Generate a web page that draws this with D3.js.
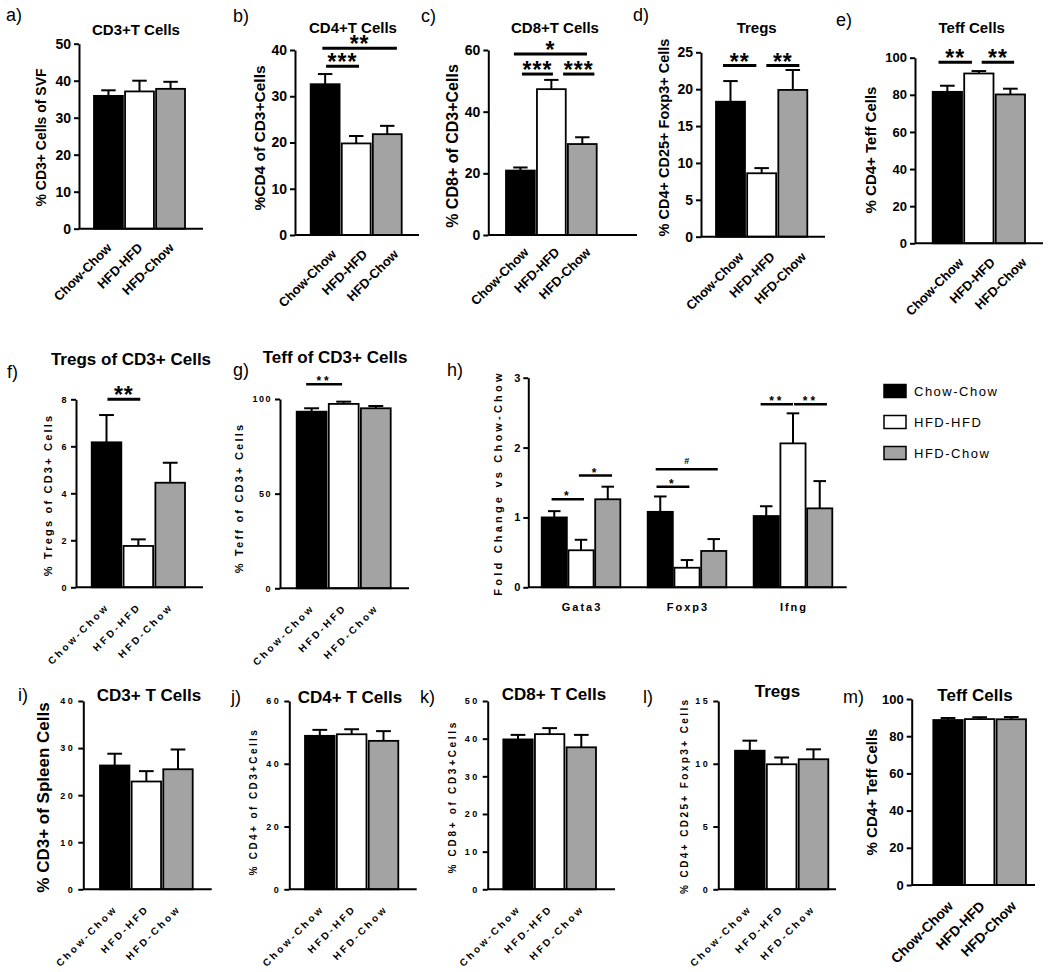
<!DOCTYPE html>
<html><head><meta charset="utf-8">
<script src="https://cdn.jsdelivr.net/npm/d3@7"></script>
<style>
body{margin:0;background:#fff}
svg{display:block;font-family:"Liberation Sans",Arial,Helvetica,sans-serif}
</style></head><body>
<svg id="c" width="1050" height="972"></svg>
<script>
// ---------------- DATA ----------------
const groups = ["Chow-Chow","HFD-HFD","HFD-Chow"];
const genes  = ["Gata3","Foxp3","Ifng"];

const aMean=[35.9,37.1,37.8],  aErr=[1.5,2.9,1.9];
const bMean=[32.6,19.8,21.8],  bErr=[2.2,1.6,1.8];
const cMean=[20.9,47.3,29.5],  cErr=[1.0,3.0,2.2];
const dMean=[18.3,8.6,19.9],   dErr=[2.8,0.7,2.7];
const eMean=[81.6,91.5,80.2],  eErr=[3.3,1.3,3.1];
const fMean=[6.17,1.76,4.45],  fErr=[1.16,0.28,0.85];
const gMean=[93.3,97.4,95.1],  gErr=[1.8,1.2,1.2];
const hGata3Mean=[1.0,0.53,1.26], hGata3Err=[0.09,0.15,0.18];
const hFoxp3Mean=[1.08,0.28,0.52], hFoxp3Err=[0.22,0.11,0.17];
const hIfngMean=[1.02,2.06,1.13],  hIfngErr=[0.14,0.43,0.39];
const iMean=[26.3,22.9,25.5],  iErr=[2.5,2.2,4.2];
const jMean=[48.9,49.4,47.3],  jErr=[1.9,1.6,3.1];
const kMean=[39.8,41.2,37.7],  kErr=[1.2,1.6,3.3];
const lMean=[11.04,9.96,10.36],lErr=[0.8,0.54,0.79];
const mMean=[88.7,89.2,89.1],  mErr=[1.1,1.0,1.2];

const aTicks=[0,10,20,30,40,50], bTicks=[0,10,20,30,40], cTicks=[0,20,40,60],
      dTicks=[0,5,10,15,20,25], eTicks=[0,20,40,60,80,100], fTicks=[0,2,4,6,8],
      gTicks=[0,50,100], hTicks=[0,1,2,3], iTicks=[0,10,20,30,40],
      jTicks=[0,20,40,60], kTicks=[0,10,20,30,40,50], lTicks=[0,5,10,15],
      mTicks=[0,20,40,60,80,100];

// significance: [from (bar index), to (bar index), value, label]
const aSig=[];
const bSig=[[0.03,1.09,36.5,"***"],[-0.09,2.31,40.4,"**"]];
const cSig=[[-0.21,2.15,58.7,"*"],[0.05,1.05,52.2,"***"],[1.38,2.39,52.2,"***"]];
const dSig=[[-0.24,0.83,23.2,"**"],[1.15,2.21,23.2,"**"]];
const eSig=[[-0.28,0.78,97.6,"**"],[1.09,2.12,97.6,"**"]];
const fSig=[[0.03,1.06,8.0,"**"]];
const gSig=[[-0.17,0.95,107.8,"**"]];
const hSig=[["Gata3",-0.1,1.11,1.26,"*"],["Gata3",0.92,2.16,1.60,"*"],
            ["Foxp3",-0.14,1.09,1.44,"*"],["Foxp3",-0.17,2.15,1.69,"#"],
            ["Ifng",-0.21,1.0,2.62,"**"],["Ifng",1.04,2.27,2.62,"**"]];
const noSig=[];

// ---------------- STYLE / LAYOUT ----------------
const fills=["#000000","#ffffff","#a3a3a3"];
const svg=d3.select("#c");

const layouts={
 a:{axisX:79,y0:228.7,yTop:43.7,max:50,bars:[94,185],xEnd:203,tick:[14,0],xl:[13,0],xo:[4,20],
    yl:["% CD3+ Cells of SVF",41,137.5,14,0],title:["CD3+T Cells",136,34.7,15],tag:["a)",6,21],big:true},
 b:{axisX:295,y0:235,yTop:50,max:40,bars:[310.7,401.7],xEnd:419,tick:[14,0],xl:[13,0],xo:[12,20],
    yl:["%CD4 of CD3+Cells",259,138,15.5,0],title:["CD4+T Cells",353,33.3,15],tag:["b)",233,22],big:true},
 c:{axisX:488.3,y0:235,yTop:50,max:60,bars:[506,596.7],xEnd:637,tick:[14,0],xl:[13,0],xo:[9,18],
    yl:["% CD8+ of CD3+Cells",452,146,16,0],title:["CD8+T Cells",555,33.3,15],tag:["c)",421,22],big:true},
 d:{axisX:701,y0:236.7,yTop:52.3,max:25,bars:[716,807.3],xEnd:825,tick:[14,0],xl:[13,0],xo:[14,21],
    yl:["% CD4+ CD25+ Foxp3+ Cells",664,137.5,14.5,0],title:["Tregs",756.7,33.3,15],tag:["d)",633,21],big:true},
 e:{axisX:915,y0:243.3,yTop:57.7,max:100,bars:[932.7,1025],xEnd:1043,tick:[13,0],xl:[13,0],xo:[17,20],
    yl:["% CD4+ Teff Cells",871,150,15,0],title:["Teff Cells",971.7,33.3,15],tag:["e)",836,26],big:true},
 f:{axisX:76,y0:587.3,yTop:399.3,max:8,bars:[91.7,185],xEnd:203,tick:[9,1.5],xl:[10,2.7],xo:[3.5,20],
    yl:["% Tregs of CD3+ Cells",48.5,495,11,2.2],title:["Tregs of CD3+ Cells",131,365,17],tag:["f)",7,378],big:true},
 g:{axisX:280,y0:588.3,yTop:399,max:100,bars:[296.7,390.7],xEnd:409,tick:[9,1.5],xl:[10,2.7],xo:[3.5,20],
    yl:["% Teff of CD3+ Cells",239,498,11,2.2],title:["Teff of CD3+ Cells",335,363.3,17],tag:["g)",233,376],big:false},
 i:{axisX:83.3,y0:889.3,yTop:701,max:40,bars:[100,192.7],xEnd:211.7,tick:[9,2.5],xl:[10,2.7],xo:[3.5,20],
    yl:["% CD3+ of Spleen Cells",42.5,797.5,17,0],title:["CD3+ T Cells",149,700.7,17],tag:["i)",18,701],big:true},
 j:{axisX:289.3,y0:889.3,yTop:701,max:60,bars:[305,398.3],xEnd:416.7,tick:[9,2.5],xl:[10,2.7],xo:[5,20],
    yl:["% CD4+ of CD3+Cells",253.5,801.7,10,2.4],title:["CD4+ T Cells",350,702.7,17],tag:["j)",231,703],big:true},
 k:{axisX:487.7,y0:889.3,yTop:701,max:50,bars:[503.3,596],xEnd:615,tick:[9,2.5],xl:[10,2.7],xo:[3.5,20],
    yl:["% CD8+ of CD3+Cells",452,796.7,10,2.7],title:["CD8+ T Cells",554,700,17],tag:["k)",420,703],big:true},
 l:{axisX:718.3,y0:889.3,yTop:701,max:15,bars:[735,828.3],xEnd:836,tick:[9,2.5],xl:[10,2.7],xo:[2.5,20],
    yl:["% CD4+ CD25+ Foxp3+ Cells",684.5,795.7,10,2.4],title:["Tregs",777.5,697,17],tag:["l)",643,703],big:true},
 m:{axisX:911.7,y0:885,yTop:699,max:100,bars:[933.3,1026],xEnd:1035,tick:[13,0],xl:[14,0],xo:[6,22],
    yl:["% CD4+ Teff Cells",872,792,15,0],title:["Teff Cells",975,700.7,17],tag:["m)",843,703],big:true}
};

function yAxisDraw(g,L,y,ticks){
  const ax=g.append("g").attr("transform",`translate(${L.axisX},0)`)
    .call(d3.axisLeft(y).tickValues(ticks).tickSize(5).tickSizeOuter(0).tickPadding(3).tickFormat(d3.format("d")));
  ax.attr("font-size",null).attr("font-family",null);
  ax.select(".domain").attr("stroke","#000").attr("stroke-width",2);
  ax.selectAll(".tick line").attr("stroke","#000").attr("stroke-width",2);
  ax.selectAll(".tick text").attr("fill","#000").style("font-weight","bold")
    .style("font-size",L.tick[0]+"px").style("letter-spacing",L.tick[1]+"px");
}
function texts(g,L){
  const [yt,yx,yy,ys,ysp]=L.yl;
  g.append("text").attr("transform",`translate(${yx+0.36*ys},${yy}) rotate(-90)`)
    .attr("text-anchor","middle").style("font-weight","bold").style("font-size",ys+"px")
    .style("letter-spacing",ysp+"px").text(yt);
  if(L.title){
    const [tt,tx,ty,ts]=L.title;
    g.append("text").attr("x",tx).attr("y",ty).attr("text-anchor","middle")
      .style("font-weight","bold").style("font-size",ts+"px").text(tt);
  }
  const [lt,lx,ly]=L.tag;
  g.append("text").attr("x",lx).attr("y",ly).style("font-size","18px").text(lt);
}
function barsDraw(g,x,y,y0,means,errs,offset){
  const bw=x.bandwidth();
  const data=groups.map((k,i)=>({k,i,m:means[i],e:errs[i]}));
  g.selectAll(null).data(data).join("line")
    .attr("x1",d=>offset+x(d.k)+bw/2).attr("x2",d=>offset+x(d.k)+bw/2)
    .attr("y1",d=>y(d.m)).attr("y2",d=>y(d.m+d.e)).attr("stroke","#000").attr("stroke-width",2);
  g.selectAll(null).data(data).join("line")
    .attr("x1",d=>offset+x(d.k)+bw/4).attr("x2",d=>offset+x(d.k)+bw*3/4)
    .attr("y1",d=>y(d.m+d.e)).attr("y2",d=>y(d.m+d.e)).attr("stroke","#000").attr("stroke-width",2);
  g.selectAll(null).data(data).join("rect")
    .attr("x",d=>offset+x(d.k)).attr("y",d=>y(d.m)).attr("width",bw).attr("height",d=>y0-y(d.m))
    .attr("fill",d=>fills[d.i]).attr("stroke","#000").attr("stroke-width",1.8);
}
function sigDraw(g,xpos,y,s,big){
  const x1=xpos(s[0]),x2=xpos(s[1]),yy=y(s[2]);
  g.append("line").attr("x1",x1).attr("x2",x2).attr("y1",yy).attr("y2",yy)
    .attr("stroke","#000").attr("stroke-width",big?3:2.6);
  const t=g.append("text").attr("x",(x1+x2)/2).attr("text-anchor","middle").style("font-weight","bold").text(s[3]);
  if(s[3]==="#"){t.attr("y",yy-5).style("font-size","9px");}
  else if(big){t.attr("y",yy+4).style("font-size","23px").style("letter-spacing","1px");}
  else {t.attr("y",yy+1).style("font-size","12px").style("letter-spacing","3px");}
}

function drawPanel(L,means,errs,ticks,sigs){
  const g=svg.append("g");
  const y=d3.scaleLinear().domain([0,L.max]).range([L.y0,L.yTop]);
  const x=d3.scaleBand().domain(groups).range(L.bars).paddingInner(0.07);
  barsDraw(g,x,y,L.y0,means,errs,0);
  yAxisDraw(g,L,y,ticks);
  g.append("line").attr("x1",L.axisX).attr("x2",L.xEnd).attr("y1",L.y0).attr("y2",L.y0)
    .attr("stroke","#000").attr("stroke-width",2);
  const xa=g.append("g").attr("transform",`translate(0,${L.y0})`).call(d3.axisBottom(x).tickSize(0));
  xa.attr("font-size",null).attr("font-family",null);
  xa.select(".domain").remove();
  xa.selectAll(".tick text").attr("fill","#000").attr("y",0).attr("dy",0)
    .attr("text-anchor","end").attr("transform",`translate(${L.xo[0]},${L.xo[1]}) rotate(-45)`)
    .style("font-weight","bold").style("font-size",L.xl[0]+"px").style("letter-spacing",L.xl[1]+"px");
  const c0=x(groups[0])+x.bandwidth()/2, st=x.step();
  sigs.forEach(s=>sigDraw(g,t=>c0+t*st,y,s,L.big));
  texts(g,L);
}

drawPanel(layouts.a,aMean,aErr,aTicks,aSig);
drawPanel(layouts.b,bMean,bErr,bTicks,bSig);
drawPanel(layouts.c,cMean,cErr,cTicks,cSig);
drawPanel(layouts.d,dMean,dErr,dTicks,dSig);
drawPanel(layouts.e,eMean,eErr,eTicks,eSig);
drawPanel(layouts.f,fMean,fErr,fTicks,fSig);
drawPanel(layouts.g,gMean,gErr,gTicks,gSig);
drawPanel(layouts.i,iMean,iErr,iTicks,noSig);
drawPanel(layouts.j,jMean,jErr,jTicks,noSig);
drawPanel(layouts.k,kMean,kErr,kTicks,noSig);
drawPanel(layouts.l,lMean,lErr,lTicks,noSig);
drawPanel(layouts.m,mMean,mErr,mTicks,noSig);

// ---------------- PANEL h (grouped) ----------------
(function(){
  const L={axisX:528.3,y0:587.3,yTop:377.7,max:3,bars:[541.7,832.3],xEnd:846.7,tick:[11,0],
    yl:["Fold Change vs Chow-Chow",498.5,483,11,3.2],tag:["h)",447,376]};
  const hMeans={Gata3:hGata3Mean,Foxp3:hFoxp3Mean,Ifng:hIfngMean};
  const hErrs={Gata3:hGata3Err,Foxp3:hFoxp3Err,Ifng:hIfngErr};
  const g=svg.append("g");
  const y=d3.scaleLinear().domain([0,L.max]).range([L.y0,L.yTop]);
  const x0=d3.scaleBand().domain(genes).range(L.bars).paddingInner(0.258);
  const x1=d3.scaleBand().domain(groups).range([0,x0.bandwidth()]).paddingInner(0.06);
  genes.forEach(gn=>barsDraw(g,x1,y,L.y0,hMeans[gn],hErrs[gn],x0(gn)));
  yAxisDraw(g,L,y,hTicks);
  g.append("line").attr("x1",L.axisX).attr("x2",L.xEnd).attr("y1",L.y0).attr("y2",L.y0)
    .attr("stroke","#000").attr("stroke-width",2);
  const xa=g.append("g").attr("transform",`translate(0,${L.y0})`).call(d3.axisBottom(x0).tickSize(0));
  xa.attr("font-size",null).attr("font-family",null);
  xa.select(".domain").remove();
  xa.selectAll(".tick text").attr("fill","#000").attr("y",24).attr("dy",0).attr("dx",1)
    .style("font-weight","bold").style("font-size","11px").style("letter-spacing","2px");
  hSig.forEach(s=>{
    const c0=x0(s[0])+x1(groups[0])+x1.bandwidth()/2, st=x1.step();
    sigDraw(g,t=>c0+t*st,y,[s[1],s[2],s[3],s[4]],false);
  });
  texts(g,L);
  // legend
  const lg=svg.append("g").attr("transform","translate(884,0)");
  const ly=d3.scalePoint().domain(groups).range([391,453]);
  lg.selectAll(null).data(groups).join("rect")
    .attr("x",0).attr("y",d=>ly(d)-6.5).attr("width",22).attr("height",13)
    .attr("fill",(d,i)=>fills[i]).attr("stroke","#000").attr("stroke-width",1.5);
  lg.selectAll(null).data(groups).join("text")
    .attr("x",30).attr("y",d=>ly(d)+5).style("font-size","13px").style("letter-spacing","1.5px").text(d=>d);
})();
</script>
</body></html>
